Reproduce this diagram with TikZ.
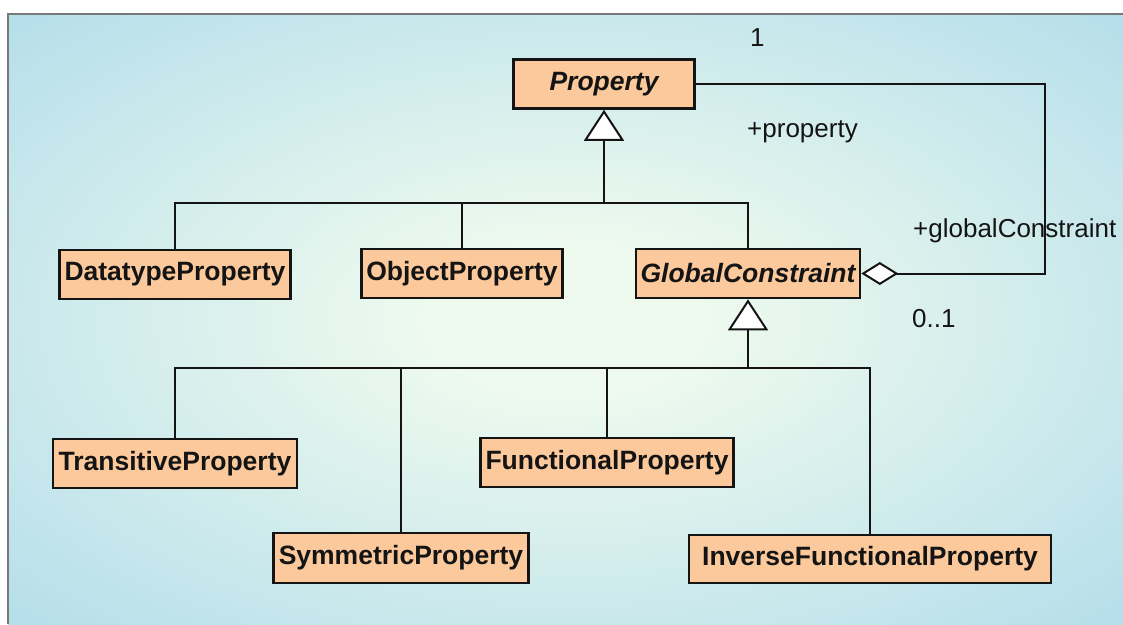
\documentclass[tikz,border=0pt]{standalone}
\usepackage{fontspec}
\setmainfont{Liberation Sans}
\usetikzlibrary{arrows.meta}

\definecolor{bgin}{RGB}{238,250,238}
\definecolor{bgout}{RGB}{164,214,234}
\definecolor{classfill}{RGB}{251,201,155}
\definecolor{ink}{RGB}{20,20,20}
\definecolor{frame}{RGB}{120,120,120}

\pgfdeclareradialshading{bgshade}{\pgfpoint{0bp}{0bp}}{%
  color(0bp)=(bgin); color(6bp)=(bgin); color(44bp)=(bgout); color(50bp)=(bgout)}

\tikzset{
  classbox/.style={draw=ink, fill=classfill, line width=2.6pt, inner sep=0pt,
    minimum height=49pt, text=ink,
    font=\fontsize{26.5}{30}\selectfont\bfseries},
  abstractbox/.style={classbox, font=\fontsize{26.5}{30}\selectfont\bfseries\itshape},
  link/.style={draw=ink, line width=2pt},
  inherit/.style={link, -{Triangle[fill=white, width=40pt, length=31pt, line width=2pt]}},
  aggregate/.style={link, {Diamond[fill=white, width=23pt, length=37pt, line width=2pt]}-},
  rolelabel/.style={inner sep=0pt, text=ink, font=\fontsize{26}{30}\selectfont},
}

\begin{document}
\begin{tikzpicture}[x=1pt, y=-1pt]
  \useasboundingbox (0,0) rectangle (1123,624);

  % canvas
  \shade[shading=bgshade] (8,14) rectangle (1123,624);
  \draw[frame, line width=1.5pt] (8,624) -- (8,14) -- (1123,14);

  % classes
  \node[abstractbox, minimum width=181pt] (P) at (604,84) {Property};
  \node[classbox, minimum width=231pt] (D) at (175,274.5) {DatatypeProperty};
  \node[classbox, minimum width=201pt] (O) at (462,273.5) {ObjectProperty};
  \node[abstractbox, minimum width=224pt] (G) at (748,273.5) {GlobalConstraint};
  \node[classbox, minimum width=244pt] (T) at (175,463.5) {TransitiveProperty};
  \node[classbox, minimum width=253pt] (F) at (607,462.5) {FunctionalProperty};
  \node[classbox, minimum width=255pt, minimum height=50pt] (S) at (401,558) {SymmetricProperty};
  \node[classbox, minimum width=362pt, minimum height=48pt] (I) at (870,559) {InverseFunctionalProperty};

  % junction points of the generalisation trees
  \coordinate (bus1) at (604,203);
  \coordinate (bus2) at (748,368);
  \coordinate (turn) at (1045,0);

  % generalisation: Property
  \draw[link] (D.north) |- (G.north |- bus1) -- (G.north);
  \draw[link] (O.north) -- (O.north |- bus1);
  \draw[inherit] (bus1) -- (P.south);

  % generalisation: GlobalConstraint
  \draw[link] (T.north) |- (I.north |- bus2) -- (I.north);
  \draw[link] (S.north) -- (S.north |- bus2);
  \draw[link] (F.north) -- (F.north |- bus2);
  \draw[inherit] (bus2) -- (G.south);

  % aggregation GlobalConstraint <>-- Property
  \draw[aggregate] (G.east) -- (G.east -| turn) |- (P.east);

  % association end labels
  \node[rolelabel, anchor=base west] (m1) at (750,46) {1};
  \node[rolelabel, anchor=base west] (rp) at (747,137) {+property};
  \node[rolelabel, anchor=base west] (rg) at (913,237) {+globalConstraint};
  \node[rolelabel, anchor=base west] (m2) at (912,327) {0..1};
\end{tikzpicture}
\end{document}
